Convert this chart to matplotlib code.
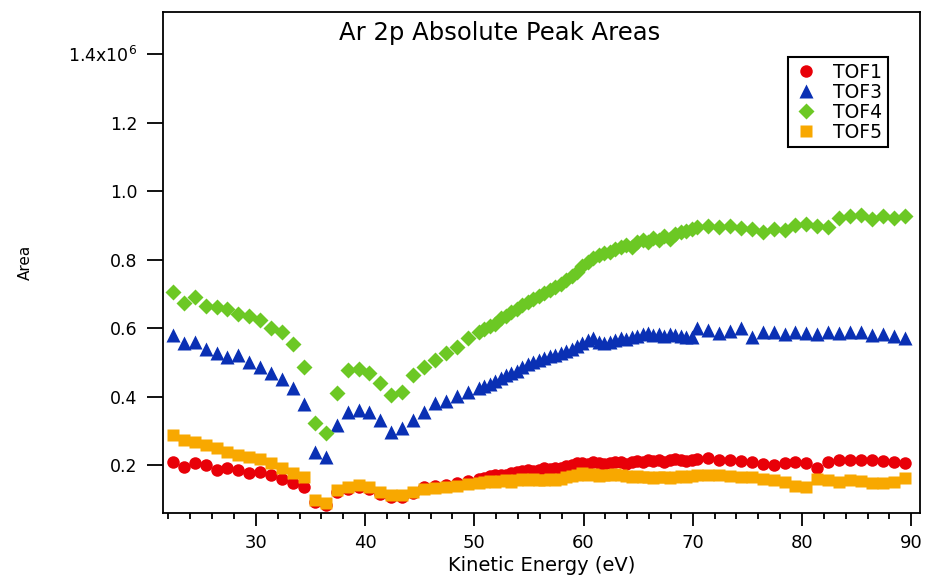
import matplotlib
matplotlib.use('Agg')
import matplotlib.pyplot as plt
from matplotlib.ticker import FixedLocator, FixedFormatter, MultipleLocator

plt.rcParams['font.family'] = ['DejaVu Sans']

# photon kinetic energy scan (eV); 0.5 eV steps through the 50-70 eV region
energy = [22.4, 23.4, 24.4, 25.4, 26.4, 27.4, 28.4, 29.4, 30.4, 31.4,
          32.4, 33.4, 34.4, 35.4, 36.4, 37.4, 38.4, 39.4, 40.4, 41.4,
          42.4, 43.4, 44.4, 45.4, 46.4, 47.4, 48.4, 49.4,
          50.4, 50.9, 51.4, 51.9, 52.4, 52.9, 53.4, 53.9, 54.4, 54.9,
          55.4, 55.9, 56.4, 56.9, 57.4, 57.9, 58.4, 58.9, 59.4, 59.9,
          60.4, 60.9, 61.4, 61.9, 62.4, 62.9, 63.4, 63.9, 64.4, 64.9,
          65.4, 65.9, 66.4, 66.9, 67.4, 67.9, 68.4, 68.9, 69.4, 69.9,
          70.4, 71.4, 72.4, 73.4, 74.4, 75.4, 76.4, 77.4, 78.4, 79.4,
          80.4, 81.4, 82.4, 83.4, 84.4, 85.4, 86.4, 87.4, 88.4, 89.4]

# peak areas in units of 1e6
tof1 = [0.210, 0.195, 0.205, 0.200, 0.187, 0.190, 0.185, 0.176, 0.180, 0.171,
        0.158, 0.147, 0.137, 0.092, 0.082, 0.121, 0.131, 0.136, 0.131, 0.116,
        0.106, 0.107, 0.118, 0.135, 0.139, 0.143, 0.148, 0.153,
        0.158, 0.162, 0.168, 0.170, 0.172, 0.170, 0.176, 0.180, 0.182, 0.185,
        0.183, 0.186, 0.190, 0.188, 0.192, 0.190, 0.196, 0.200, 0.205, 0.206,
        0.204, 0.208, 0.205, 0.202, 0.206, 0.210, 0.208, 0.204, 0.208, 0.212,
        0.210, 0.214, 0.212, 0.216, 0.210, 0.214, 0.218, 0.216, 0.212, 0.215,
        0.218, 0.222, 0.214, 0.216, 0.212, 0.210, 0.204, 0.200, 0.206, 0.210,
        0.206, 0.192, 0.208, 0.215, 0.214, 0.216, 0.214, 0.212, 0.210, 0.207]

tof3 = [0.580, 0.555, 0.560, 0.538, 0.526, 0.516, 0.521, 0.502, 0.487, 0.469,
        0.450, 0.425, 0.379, 0.239, 0.224, 0.318, 0.355, 0.362, 0.356, 0.333,
        0.297, 0.307, 0.333, 0.355, 0.381, 0.387, 0.401, 0.413,
        0.425, 0.430, 0.438, 0.446, 0.455, 0.462, 0.470, 0.476, 0.485, 0.494,
        0.500, 0.506, 0.512, 0.518, 0.522, 0.528, 0.534, 0.538, 0.548, 0.556,
        0.565, 0.572, 0.560, 0.555, 0.560, 0.566, 0.570, 0.568, 0.575, 0.578,
        0.582, 0.586, 0.580, 0.584, 0.578, 0.582, 0.580, 0.578, 0.575, 0.574,
        0.600, 0.594, 0.586, 0.592, 0.600, 0.574, 0.588, 0.590, 0.584, 0.590,
        0.586, 0.584, 0.588, 0.586, 0.590, 0.588, 0.580, 0.584, 0.578, 0.570]

tof4 = [0.706, 0.674, 0.690, 0.664, 0.662, 0.655, 0.641, 0.635, 0.625, 0.599,
        0.589, 0.553, 0.487, 0.322, 0.294, 0.409, 0.477, 0.480, 0.469, 0.439,
        0.404, 0.414, 0.463, 0.486, 0.507, 0.527, 0.545, 0.571,
        0.590, 0.598, 0.605, 0.612, 0.628, 0.636, 0.648, 0.655, 0.668, 0.675,
        0.684, 0.693, 0.702, 0.710, 0.720, 0.728, 0.740, 0.752, 0.765, 0.780,
        0.792, 0.806, 0.812, 0.818, 0.822, 0.830, 0.836, 0.842, 0.838, 0.850,
        0.856, 0.852, 0.862, 0.858, 0.868, 0.860, 0.874, 0.880, 0.884, 0.888,
        0.895, 0.897, 0.895, 0.898, 0.892, 0.890, 0.880, 0.890, 0.886, 0.900,
        0.905, 0.898, 0.895, 0.922, 0.928, 0.930, 0.918, 0.928, 0.922, 0.926]

tof5 = [0.288, 0.274, 0.268, 0.258, 0.249, 0.239, 0.229, 0.224, 0.217, 0.205,
        0.190, 0.176, 0.166, 0.098, 0.088, 0.127, 0.137, 0.142, 0.137, 0.122,
        0.112, 0.112, 0.122, 0.129, 0.132, 0.135, 0.138, 0.145,
        0.148, 0.150, 0.152, 0.150, 0.154, 0.156, 0.150, 0.155, 0.158, 0.155,
        0.160, 0.157, 0.155, 0.158, 0.156, 0.160, 0.164, 0.168, 0.172, 0.176,
        0.172, 0.175, 0.168, 0.172, 0.170, 0.174, 0.171, 0.168, 0.165, 0.168,
        0.164, 0.166, 0.162, 0.164, 0.166, 0.163, 0.165, 0.168, 0.166, 0.168,
        0.170, 0.172, 0.171, 0.168, 0.165, 0.165, 0.160, 0.155, 0.150, 0.140,
        0.135, 0.160, 0.156, 0.150, 0.156, 0.152, 0.148, 0.147, 0.150, 0.162]

y_ticks = [0.2, 0.4, 0.6, 0.8, 1.0, 1.2, 1.4]
y_labels = ['0.2', '0.4', '0.6', '0.8', '1.0', '1.2', '1.4x10$^{6}$']

W, H = 926, 577
fig = plt.figure(figsize=(W / 100, H / 100), dpi=100)
ax = fig.add_axes([163 / W, 1 - 513 / H, (920 - 163) / W, (513 - 12) / H])

ax.plot(energy, tof1, 'o', color='#e80008', ms=9, mec='none', label='TOF1')
ax.plot(energy, tof3, '^', color='#0a30b4', ms=10, mec='none', label='TOF3')
ax.plot(energy, tof4, 'D', color='#6cc824', ms=8.5, mec='none', label='TOF4')
ax.plot(energy, tof5, 's', color='#f8a800', ms=9, mec='none', label='TOF5')

ax.set_xlim(21.5, 90.8)
ax.set_ylim(0.06, 1.523)

ax.xaxis.set_major_locator(MultipleLocator(10))
ax.xaxis.set_minor_locator(MultipleLocator(2))
ax.yaxis.set_major_locator(FixedLocator(y_ticks))
ax.yaxis.set_major_formatter(FixedFormatter(y_labels))

for s in ax.spines.values():
    s.set_linewidth(1.3)
ax.tick_params(axis='x', which='major', direction='out', length=9, width=1.3,
               labelsize=13, pad=6)
ax.tick_params(axis='x', which='minor', direction='out', length=4.5, width=1.3)
ax.tick_params(axis='y', which='major', direction='out', length=11.5, width=1.3,
               labelsize=12.5, pad=7)

ax.set_xlabel('Kinetic Energy (eV)', fontsize=14, labelpad=3)
fig.text(25 / W, 1 - 262 / H, 'Area', rotation=90, ha='center', va='center',
         fontsize=11)
fig.text(500 / W, 1 - 33 / H, 'Ar 2p Absolute Peak Areas', ha='center',
         va='center', fontsize=17.5)

leg = ax.legend(loc='upper right', bbox_to_anchor=(0.9577, 0.910),
                borderaxespad=0, fontsize=13.5, fancybox=False, framealpha=1,
                edgecolor='black', labelspacing=0.05, handlelength=1.3,
                handletextpad=0.8, borderpad=0.3)
leg.get_frame().set_linewidth(1.5)

fig.savefig('out.png', dpi=100)
